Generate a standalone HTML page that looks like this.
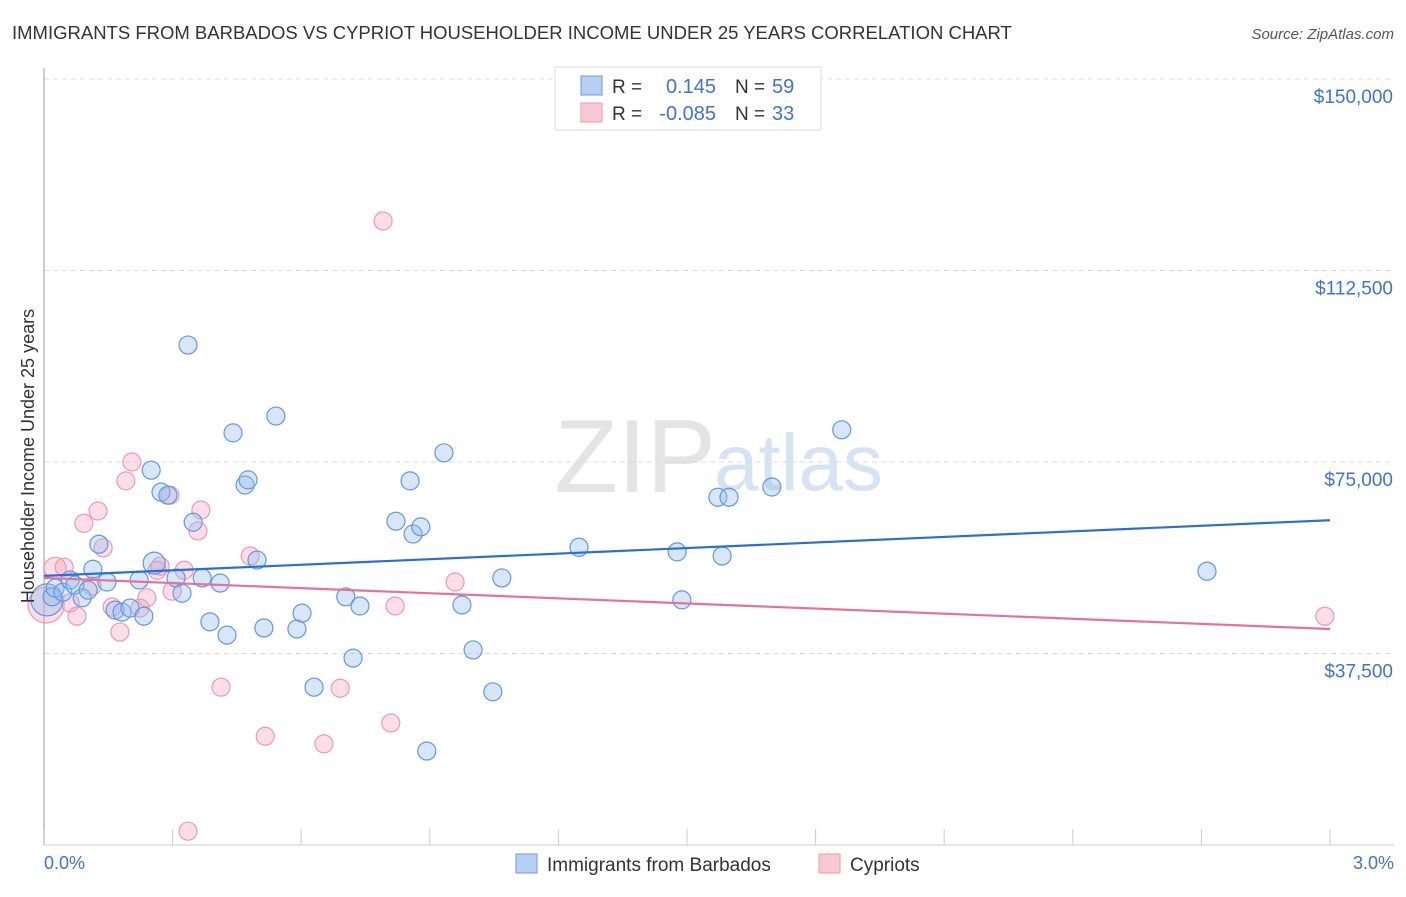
<!DOCTYPE html>
<html><head><meta charset="utf-8"><style>
body{margin:0;background:#fff;font-family:"Liberation Sans",sans-serif;}
svg text{font-family:"Liberation Sans",sans-serif;}
</style></head><body>
<svg id="chart" width="1406" height="892" xmlns="http://www.w3.org/2000/svg">
<text x="12" y="39" font-size="18.5" fill="#333">IMMIGRANTS FROM BARBADOS VS CYPRIOT HOUSEHOLDER INCOME UNDER 25 YEARS CORRELATION CHART</text>
<text x="1394" y="39" font-size="15" fill="#555" font-style="italic" text-anchor="end">Source: ZipAtlas.com</text>
<text x="716" y="492" font-size="104" fill="#e4e4e4" text-anchor="end" font-family="Liberation Serif">ZIP</text>
<text x="714" y="490" font-size="80" fill="#d6e3f3">atlas</text>
<g id="grid"></g>
<line x1="44" y1="68" x2="44" y2="845" stroke="#bbb" stroke-width="1.5"/>
<line x1="44" y1="845" x2="1394" y2="845" stroke="#ccc" stroke-width="1"/>
<g id="ticks"></g>
<g id="pts"></g>
<g id="lines"></g>
<text transform="translate(34,456) rotate(-90)" font-size="18" fill="#333" text-anchor="middle">Householder Income Under 25 years</text>
<text x="44" y="869" font-size="18" fill="#3f73d0">0.0%</text>
<text x="1394" y="869" font-size="18" fill="#3f73d0" text-anchor="end">3.0%</text>
<g>
<rect x="555" y="67" width="266" height="63" fill="#fff" stroke="#ddd"/>
<rect x="581" y="76" width="21" height="19" fill="#b6d0f4" stroke="#6a9be0"/>
<rect x="581" y="103" width="21" height="19" fill="#f9c8d6" stroke="#ee98b3"/>
<text x="612" y="93" font-size="19" fill="#333">R =</text>
<text x="716" y="93" font-size="20" fill="#3f73d0" text-anchor="end">0.145</text>
<text x="735" y="93" font-size="19" fill="#333">N =</text><text x="772" y="93" font-size="20" fill="#3f73d0">59</text>
<text x="612" y="120" font-size="19" fill="#333">R =</text>
<text x="716" y="120" font-size="20" fill="#3f73d0" text-anchor="end">-0.085</text>
<text x="735" y="120" font-size="19" fill="#333">N =</text><text x="772" y="120" font-size="20" fill="#3f73d0">33</text>
</g>
<g>
<rect x="516" y="854" width="21" height="19" fill="#b6d0f4" stroke="#6a9be0"/>
<text x="547" y="871" font-size="19" fill="#333">Immigrants from Barbados</text>
<rect x="819" y="854" width="21" height="19" fill="#f9c8d6" stroke="#ee98b3"/>
<text x="850" y="871" font-size="19" fill="#333">Cypriots</text>
</g>
</svg>
<script>
const yTicks=[37500,75000,112500,150000];
const yTickLabels=["$37,500","$75,000","$112,500","$150,000"];
const xTicks=[0,0.3,0.6,0.9,1.2,1.5,1.8,2.1,2.4,2.7,3.0];
const blueX=[0.007,0.019,0.026,0.044,0.061,0.072,0.089,0.103,0.114,0.128,0.147,0.166,0.182,0.201,0.222,0.233,0.250,0.257,0.273,0.289,0.308,0.322,0.336,0.348,0.369,0.387,0.411,0.427,0.441,0.469,0.476,0.497,0.513,0.541,0.590,0.602,0.630,0.704,0.721,0.737,0.821,0.854,0.861,0.879,0.893,0.933,0.975,1.001,1.047,1.068,1.248,1.477,1.488,1.572,1.582,1.598,1.698,1.861,2.713];
const blueY=[48000,48600,50300,49500,51900,50900,48400,49900,54000,58900,51500,46000,45600,46400,51900,44800,73400,55200,69100,68500,52300,49300,97900,63200,52300,43700,51300,41100,80700,70500,71500,55800,42500,84000,42300,45400,30900,48600,36600,46800,63400,71300,60900,62300,18400,76800,47000,38200,30000,52300,58300,57400,48000,68100,56600,68100,70100,81300,53600];
const blueSize=[16,9,9,9,9,9,9,9,9,9,9,9,9,9,9,9,9,11,9,9,9,9,9,9,9,9,9,9,9,9,9,9,9,9,9,9,9,9,9,9,9,9,9,9,9,9,9,9,9,9,9,9,9,9,9,9,9,9,9];
const pinkX=[0.005,0.026,0.047,0.061,0.077,0.093,0.112,0.126,0.138,0.159,0.177,0.191,0.205,0.224,0.240,0.264,0.271,0.294,0.299,0.327,0.359,0.366,0.413,0.481,0.516,0.653,0.691,0.791,0.809,0.819,0.959,0.336,2.988];
const pinkY=[47000,54200,54400,47400,44800,63000,50700,65400,58200,46600,41700,71300,75000,46400,48400,53800,54600,68500,49700,53800,61500,65600,30900,56600,21300,19800,30700,122200,23900,46800,51500,2700,44800];
const pinkSize=[18,11,9,9,9,9,9,9,9,9,9,9,9,9,9,9,9,9,9,9,9,9,9,9,9,9,9,9,9,9,9,9,9];
const blueTrend=[52700,63600];
const pinkTrend=[52300,42300];
const NS="http://www.w3.org/2000/svg";
const X=v=>44+v*(1286/3);
const Y=v=>845-v*(191.5/37500);
function mk(tag,attrs,parent){const e=document.createElementNS(NS,tag);for(const k in attrs)e.setAttribute(k,attrs[k]);document.getElementById(parent).appendChild(e);return e;}
yTicks.forEach((t,i)=>{
  const l=mk('line',{x1:44,x2:1394,y1:Y(t),y2:Y(t),stroke:'#ddd','stroke-dasharray':'5,4'},'grid');
  
  
  const tx=mk('text',{x:1393,y:Y(t)+24,'font-size':19,fill:'#3f73d0','text-anchor':'end'},'grid');
  tx.textContent=yTickLabels[i];
  
  
});
xTicks.forEach(t=>{
  const l=mk('line',{x1:X(t),x2:X(t),y1:829,y2:845,stroke:'#ccc'},'ticks');
  
  
});
function pts(xs,ys,ss,fill,stroke,name){
  xs.forEach((x,i)=>{
    const c=mk('circle',{cx:X(x),cy:Y(ys[i]),r:ss[i],fill:fill,stroke:stroke,'stroke-width':1.2},'pts');
    
    
  });
}
pts(pinkX,pinkY,pinkSize,'rgba(244,160,185,0.35)','#eb9ab3','cypriot-point');
pts(blueX,blueY,blueSize,'rgba(150,190,240,0.38)','#6597e0','barbados-point');
const bl=mk('line',{x1:X(0),y1:Y(blueTrend[0]),x2:X(3),y2:Y(blueTrend[1]),stroke:'#2a6fd6','stroke-width':2.2},'lines');


const pl=mk('line',{x1:X(0),y1:Y(pinkTrend[0]),x2:X(3),y2:Y(pinkTrend[1]),stroke:'#e8719a','stroke-width':2.2},'lines');


</script>
</body></html>
